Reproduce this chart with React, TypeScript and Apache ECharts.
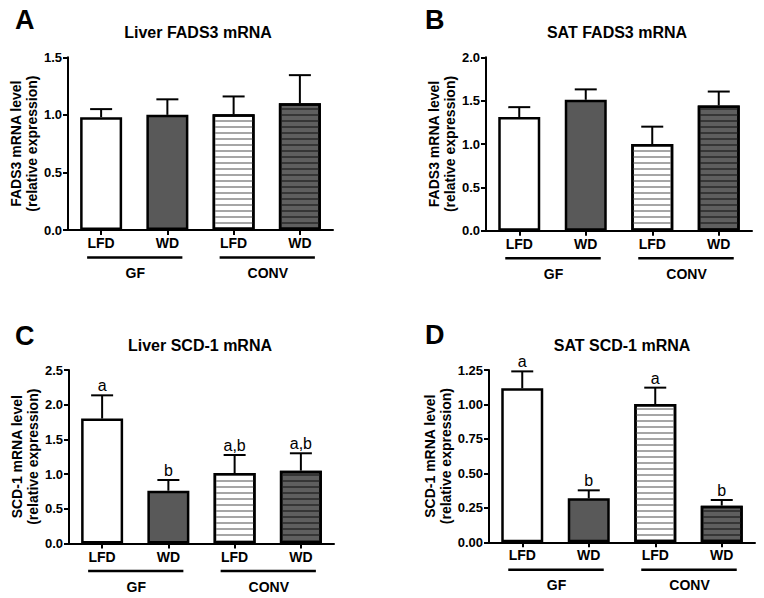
import React, { useEffect, useRef } from "react";
import * as echarts from "echarts";

// ---------- data ----------
const categories = ["LFD", "WD", "LFD", "WD"];
const groupNames = ["GF", "CONV"];
const groupStart = [0, 2];
const groupEnd = [1, 3];

const liverFads3Mean = [0.98, 1.0, 1.005, 1.1];
const liverFads3Sem = [0.07, 0.135, 0.155, 0.245];

const satFads3Mean = [1.31, 1.51, 1.0, 1.445];
const satFads3Sem = [0.115, 0.12, 0.2, 0.16];

const liverScd1Mean = [1.8, 0.76, 1.015, 1.05];
const liverScd1Sem = [0.335, 0.155, 0.26, 0.25];
const liverScd1Letters = ["a", "b", "a,b", "a,b"];

const satScd1Mean = [1.117, 0.319, 1.003, 0.266];
const satScd1Sem = [0.123, 0.058, 0.119, 0.041];
const satScd1Letters = ["a", "b", "a", "b"];

const ticksA = ["0.0", "0.5", "1.0", "1.5"];
const ticksB = ["0.0", "0.5", "1.0", "1.5", "2.0"];
const ticksC = ["0.0", "0.5", "1.0", "1.5", "2.0", "2.5"];
const ticksD = ["0.00", "0.25", "0.50", "0.75", "1.00", "1.25"];

const panelLetters = ["A", "B", "C", "D"];
const panelTitles = ["Liver FADS3 mRNA", "SAT FADS3 mRNA", "Liver SCD-1 mRNA", "SAT SCD-1 mRNA"];
const yNames = [
  "FADS3 mRNA level\n(relative expression)",
  "FADS3 mRNA level\n(relative expression)",
  "SCD-1 mRNA level\n(relative expression)",
  "SCD-1 mRNA level\n(relative expression)",
];

// ---------- layout ----------
const FONT = '"Liberation Sans", Arial, Helvetica, sans-serif';
const grids = [
  { left: 68, top: 57.3, width: 265, height: 172.7 },
  { left: 486, top: 57.3, width: 266, height: 173.4 },
  { left: 69, top: 370, width: 265, height: 173.5 },
  { left: 489, top: 370, width: 266, height: 172.3 },
];
const letterPos = [
  [15, 20],
  [425, 20],
  [15, 336],
  [425, 335],
];
const titlePos = [
  [198, 32],
  [617, 32],
  [200, 345],
  [622, 345],
];

const barColors = ["#ffffff", "#595959", "#ffffff", "#5f5f5f"];
const stripeColors = [null, null, "#a6a6a6", "#363636"];

const panels = [
  { mean: liverFads3Mean, sem: liverFads3Sem, letters: null as string[] | null, ticks: ticksA },
  { mean: satFads3Mean, sem: satFads3Sem, letters: null as string[] | null, ticks: ticksB },
  { mean: liverScd1Mean, sem: liverScd1Sem, letters: liverScd1Letters, ticks: ticksC },
  { mean: satScd1Mean, sem: satScd1Sem, letters: satScd1Letters, ticks: ticksD },
];

function buildOption() {
  const grid: any[] = [];
  const xAxis: any[] = [];
  const yAxis: any[] = [];
  const series: any[] = [];
  const graphic: any[] = [];

  panels.forEach((p, k) => {
    const tickVals = p.ticks.map((t) => parseFloat(t));
    const interval = tickVals[1] - tickVals[0];
    const decimals = p.ticks[0].split(".")[1].length;
    grid.push({ ...grids[k], containLabel: false });
    xAxis.push({
      type: "category",
      gridIndex: k,
      data: categories,
      axisLine: { show: true, lineStyle: { color: "#000", width: 2 } },
      axisTick: { show: true, alignWithLabel: true, length: 5, lineStyle: { color: "#000", width: 2 } },
      axisLabel: { color: "#000", fontFamily: FONT, fontWeight: "bold", fontSize: 14, margin: 6 },
      splitLine: { show: false },
    });
    yAxis.push({
      type: "value",
      gridIndex: k,
      min: tickVals[0],
      max: tickVals[tickVals.length - 1],
      interval,
      name: yNames[k],
      nameLocation: "middle",
      nameGap: 28,
      nameTextStyle: { color: "#000", fontFamily: FONT, fontWeight: "bold", fontSize: 14, lineHeight: 16 },
      axisLine: { show: true, lineStyle: { color: "#000", width: 2 } },
      axisTick: { show: true, length: 5, lineStyle: { color: "#000", width: 2 } },
      axisLabel: {
        color: "#000",
        fontFamily: FONT,
        fontWeight: "bold",
        fontSize: 13,
        margin: 6,
        formatter: (v: number) => v.toFixed(decimals),
      },
      splitLine: { show: false },
    });

    series.push({
      type: "bar",
      xAxisIndex: k,
      yAxisIndex: k,
      barWidth: 42,
      z: 2,
      data: p.mean.map((m, i) => ({
        value: m,
        itemStyle: {
          color: barColors[i],
          borderColor: "#000",
          borderWidth: 2.5,
          decal: stripeColors[i]
            ? {
                symbol: "rect",
                symbolSize: 1,
                color: stripeColors[i],
                dashArrayX: [1, 0],
                dashArrayY: [1.4, 3.1],
                rotation: 0,
              }
            : undefined,
        },
      })),
    });

    const letters = p.letters;
    series.push({
      type: "custom",
      xAxisIndex: k,
      yAxisIndex: k,
      z: 3,
      clip: false,
      data: p.mean.map((m, i) => [i, m, m + p.sem[i]]),
      renderItem: (params: any, api: any) => {
        const i = api.value(0);
        const top = api.coord([i, api.value(1)]);
        const hi = api.coord([i, api.value(2)]);
        const children: any[] = [
          {
            type: "line",
            shape: { x1: top[0], y1: top[1], x2: hi[0], y2: hi[1] },
            style: { stroke: "#000", lineWidth: 2 },
          },
          {
            type: "line",
            shape: { x1: hi[0] - 11, y1: hi[1], x2: hi[0] + 11, y2: hi[1] },
            style: { stroke: "#000", lineWidth: 2 },
          },
        ];
        if (letters) {
          children.push({
            type: "text",
            style: {
              text: letters[params.dataIndex],
              x: hi[0],
              y: hi[1] - 9.5,
              textAlign: "center",
              textVerticalAlign: "middle",
              font: `16px ${FONT}`,
              fill: "#000",
            },
          });
        }
        return { type: "group", children };
      },
    });

    series.push({
      type: "custom",
      xAxisIndex: k,
      yAxisIndex: k,
      z: 3,
      clip: false,
      silent: true,
      data: groupNames.map((_, g) => [groupStart[g], tickVals[0], groupEnd[g]]),
      renderItem: (params: any, api: any) => {
        const a = api.coord([api.value(0), api.value(1)]);
        const b = api.coord([api.value(2), api.value(1)]);
        const x1 = a[0] - 14;
        const x2 = b[0] + 15;
        return {
          type: "group",
          children: [
            {
              type: "line",
              shape: { x1, y1: a[1] + 27.5, x2, y2: a[1] + 27.5 },
              style: { stroke: "#000", lineWidth: 2.5 },
            },
            {
              type: "text",
              style: {
                text: groupNames[params.dataIndex],
                x: (a[0] + b[0]) / 2 + 1,
                y: a[1] + 43,
                textAlign: "center",
                textVerticalAlign: "middle",
                font: `bold 14px ${FONT}`,
                fill: "#000",
              },
            },
          ],
        };
      },
    });

    graphic.push({
      type: "text",
      x: letterPos[k][0],
      y: letterPos[k][1],
      style: {
        text: panelLetters[k],
        textAlign: "left",
        textVerticalAlign: "middle",
        font: `bold 27px ${FONT}`,
        fill: "#000",
      },
    });
    graphic.push({
      type: "text",
      x: titlePos[k][0],
      y: titlePos[k][1],
      style: {
        text: panelTitles[k],
        textAlign: "center",
        textVerticalAlign: "middle",
        font: `bold 16px ${FONT}`,
        fill: "#000",
      },
    });
  });

  return {
    animation: false,
    backgroundColor: "#ffffff",
    grid,
    xAxis,
    yAxis,
    series,
    graphic,
  };
}

export default function App() {
  const ref = useRef<HTMLDivElement>(null);
  useEffect(() => {
    if (!ref.current) return;
    const chart = echarts.init(ref.current, undefined, { renderer: "svg" });
    chart.setOption(buildOption() as any);
    return () => chart.dispose();
  }, []);
  return (
    <div
      ref={ref}
      style={{ position: "absolute", left: 0, top: 0, width: 764, height: 598, background: "#fff" }}
    />
  );
}
